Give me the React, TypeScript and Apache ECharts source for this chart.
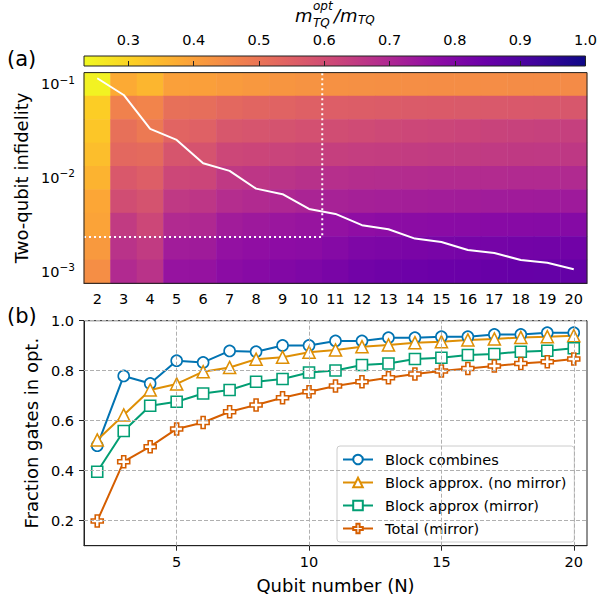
import React, { useEffect, useRef } from 'react';
import * as echarts from 'echarts';

const FONT = 'DejaVu Sans';

// ---------- panel (a) data ----------
const qubits = [2, 3, 4, 5, 6, 7, 8, 9, 10, 11, 12, 13, 14, 15, 16, 17, 18, 19, 20];
// log10 of two-qubit infidelity, rows from top to bottom
const infidelityExponents = ['-1', '-1.25', '-1.5', '-1.75', '-2', '-2.25', '-2.5', '-2.75', '-3'];
// m_TQ^opt / m_TQ for each row (top -> bottom), columns N = 2..20
const ratioRow0 = [0.245, 0.378, 0.355, 0.400, 0.402, 0.410, 0.418, 0.423, 0.428, 0.433, 0.436, 0.438, 0.440, 0.441, 0.442, 0.443, 0.444, 0.445, 0.446];
const ratioRow1 = [0.310, 0.470, 0.462, 0.510, 0.515, 0.530, 0.537, 0.543, 0.550, 0.555, 0.558, 0.561, 0.563, 0.565, 0.567, 0.569, 0.570, 0.572, 0.574];
const ratioRow2 = [0.324, 0.510, 0.490, 0.540, 0.548, 0.574, 0.580, 0.585, 0.592, 0.600, 0.606, 0.611, 0.615, 0.619, 0.623, 0.626, 0.629, 0.632, 0.635];
const ratioRow3 = [0.340, 0.530, 0.524, 0.578, 0.583, 0.616, 0.620, 0.625, 0.630, 0.636, 0.640, 0.643, 0.645, 0.647, 0.649, 0.650, 0.652, 0.653, 0.655];
const ratioRow4 = [0.360, 0.570, 0.555, 0.616, 0.620, 0.654, 0.660, 0.667, 0.675, 0.680, 0.684, 0.686, 0.688, 0.689, 0.690, 0.691, 0.692, 0.693, 0.694];
const ratioRow5 = [0.386, 0.600, 0.585, 0.654, 0.660, 0.685, 0.693, 0.700, 0.708, 0.715, 0.720, 0.722, 0.725, 0.727, 0.729, 0.731, 0.732, 0.733, 0.735];
const ratioRow6 = [0.393, 0.647, 0.616, 0.693, 0.698, 0.730, 0.738, 0.745, 0.752, 0.760, 0.770, 0.775, 0.778, 0.781, 0.783, 0.785, 0.787, 0.789, 0.790];
const ratioRow7 = [0.416, 0.670, 0.647, 0.730, 0.733, 0.760, 0.767, 0.773, 0.778, 0.790, 0.805, 0.810, 0.814, 0.818, 0.821, 0.824, 0.827, 0.830, 0.832];
const ratioRow8 = [0.440, 0.693, 0.670, 0.754, 0.756, 0.777, 0.787, 0.797, 0.805, 0.815, 0.830, 0.836, 0.840, 0.844, 0.847, 0.850, 0.853, 0.856, 0.858];
const ratioRows = [ratioRow0, ratioRow1, ratioRow2, ratioRow3, ratioRow4, ratioRow5, ratioRow6, ratioRow7, ratioRow8];

// white curve: infidelity vs N
const curveInfidelity = [0.116, 0.0769, 0.0334, 0.0255, 0.01436, 0.01189, 0.00769, 0.0067, 0.00467, 0.00413, 0.00313, 0.00283, 0.00225, 0.00207, 0.0017, 0.00158, 0.00133, 0.00124, 0.00106];
// dotted guide
const guideInfidelity = 0.00234;
const guideQubits = 10.5;

const colorbarMin = 0.232;
const colorbarMax = 1.0;
const colorbarTicks = [0.3, 0.4, 0.5, 0.6, 0.7, 0.8, 0.9, 1.0];

// ---------- panel (b) data ----------
const blockCombines = [0.50, 0.779, 0.749, 0.840, 0.833, 0.879, 0.876, 0.901, 0.901, 0.919, 0.919, 0.932, 0.932, 0.936, 0.936, 0.945, 0.945, 0.952, 0.952];
const blockApproxNoMirror = [0.523, 0.623, 0.723, 0.747, 0.796, 0.813, 0.846, 0.854, 0.874, 0.883, 0.896, 0.903, 0.912, 0.916, 0.923, 0.927, 0.933, 0.936, 0.940];
const blockApproxMirror = [0.396, 0.559, 0.660, 0.676, 0.709, 0.723, 0.756, 0.767, 0.793, 0.801, 0.823, 0.829, 0.847, 0.852, 0.863, 0.867, 0.876, 0.880, 0.890];
const totalMirror = [0.199, 0.436, 0.496, 0.567, 0.593, 0.636, 0.663, 0.692, 0.716, 0.739, 0.756, 0.772, 0.787, 0.799, 0.809, 0.819, 0.829, 0.836, 0.847];
const qubitTicks = [5, 10, 15, 20];
const fractionTicks = [0.2, 0.4, 0.6, 0.8, 1.0];

const plasma = ['#0d0887', '#41049d', '#6a00a8', '#8f0da4', '#b12a90', '#cc4778', '#e16462', '#f2844b', '#fca636', '#fcce25', '#f0f921'];
const plasmaR = [...plasma].reverse();

const PLUS = 'path://M2,0 H4 V2 H6 V4 H4 V6 H2 V4 H0 V2 H2 Z';

export default function App() {
  const ref = useRef<HTMLDivElement>(null);
  useEffect(() => {
    if (!ref.current) return;
    const chart = echarts.init(ref.current, null, { renderer: 'svg' });

    const heatData: number[][] = [];
    ratioRows.forEach((row, r) => row.forEach((v, c) => heatData.push([c, r, v])));

    const lineData = (arr: number[]) => arr.map((v, i) => [qubits[i], v]);
    const lo = Math.pow(10, -3.125);
    const hi = Math.pow(10, -0.875);

    const tickLabel = { color: '#000', fontSize: 14.5, fontFamily: FONT };
    const nameStyle = { color: '#000', fontSize: 18, fontFamily: FONT };
    const gradStops = plasmaR.map((c, i) => ({ offset: i / (plasmaR.length - 1), color: c }));

    const mkSeries = (name: string, arr: number[], color: string, symbol: string, size: number) => ({
      name,
      type: 'line',
      xAxisIndex: 2,
      yAxisIndex: 2,
      data: lineData(arr),
      symbol,
      symbolSize: size,
      showAllSymbol: true,
      lineStyle: { color, width: 2 },
      itemStyle: { color: '#fff', borderColor: color, borderWidth: 1.6 },
      emphasis: { disabled: true },
      z: 3,
    });

    chart.setOption({
      animation: false,
      textStyle: { fontFamily: FONT },
      grid: [
        { left: 84, top: 72.6, width: 503, height: 210.7, show: true, borderColor: '#222', borderWidth: 1, z: 5 },
        { left: 84, top: 72.6, width: 503, height: 210.7 },
        { left: 84, top: 320.7, width: 503, height: 225, show: true, borderColor: '#222', borderWidth: 1 },
        {
          left: 84, top: 56, width: 502, height: 10, show: true, borderColor: '#222', borderWidth: 1,
          backgroundColor: new echarts.graphic.LinearGradient(0, 0, 1, 0, gradStops),
        },
      ],
      xAxis: [
        {
          gridIndex: 0, type: 'category', data: qubits.map(String),
          axisLine: { lineStyle: { color: '#222' } },
          axisTick: { alignWithLabel: true, length: 5, interval: 0, lineStyle: { color: '#222' } },
          axisLabel: { ...tickLabel, interval: 0, margin: 8 },
          splitLine: { show: false },
        },
        { gridIndex: 1, type: 'value', min: 1.5, max: 20.5, show: false },
        {
          gridIndex: 2, type: 'value', min: 1.5, max: 20.5,
          name: 'Qubit number (N)', nameLocation: 'middle', nameGap: 31,
          nameTextStyle: nameStyle,
          axisLine: { lineStyle: { color: '#222' } },
          axisTick: { show: true, length: 5, customValues: qubitTicks, lineStyle: { color: '#222' } },
          axisLabel: { ...tickLabel, customValues: qubitTicks, margin: 9 },
          splitLine: { show: false },
        },
        {
          gridIndex: 3, type: 'value', position: 'top', min: colorbarMin, max: colorbarMax,
          axisLine: { show: false },
          axisTick: { show: true, length: 5, customValues: colorbarTicks, lineStyle: { color: '#222' } },
          axisLabel: { ...tickLabel, customValues: colorbarTicks, margin: 9, formatter: (v: number) => v.toFixed(1) },
          splitLine: { show: false },
        },
      ],
      yAxis: [
        {
          gridIndex: 0, type: 'category', data: infidelityExponents, inverse: true,
          name: 'Two-qubit infidelity', nameLocation: 'middle', nameGap: 52,
          nameTextStyle: nameStyle,
          axisLine: { lineStyle: { color: '#222' } },
          axisTick: { alignWithLabel: true, length: 5, interval: 0, lineStyle: { color: '#222' } },
          axisLabel: {
            interval: 0, margin: 9,
            formatter: (v: string) => (Number.isInteger(Number(v)) ? `{b|10}{s|\u2212${Math.abs(Number(v))}}` : ''),
            rich: {
              b: { color: '#000', fontSize: 14.5, fontFamily: FONT, lineHeight: 20 },
              s: { color: '#000', fontSize: 10.5, fontFamily: FONT, lineHeight: 10, verticalAlign: 'top' },
            },
          },
          splitLine: { show: false },
        },
        { gridIndex: 1, type: 'log', min: lo, max: hi, show: false },
        {
          gridIndex: 2, type: 'value', min: 0.1, max: 1.0,
          name: 'Fraction gates in opt.', nameLocation: 'middle', nameGap: 43,
          nameTextStyle: nameStyle,
          axisLine: { lineStyle: { color: '#222' } },
          axisTick: { show: true, length: 5, customValues: fractionTicks, lineStyle: { color: '#222' } },
          axisLabel: { ...tickLabel, customValues: fractionTicks, margin: 10, formatter: (v: number) => v.toFixed(1) },
          splitLine: { show: false },
        },
        { gridIndex: 3, type: 'value', show: false },
      ],
      visualMap: {
        show: false, type: 'continuous', min: colorbarMin, max: colorbarMax, seriesIndex: 0,
        inRange: { color: plasmaR },
      },
      legend: {
        orient: 'vertical', left: 337, top: 446,
        itemWidth: 30, itemHeight: 12, itemGap: 8,
        padding: [6, 8, 6, 5],
        backgroundColor: 'rgba(255,255,255,0.85)', borderColor: '#ccc', borderWidth: 1, borderRadius: 3,
        textStyle: { color: '#000', fontSize: 14.5, fontFamily: FONT, padding: [0, 0, 0, 7] },
        data: ['Block combines', 'Block approx. (no mirror)', 'Block approx (mirror)', 'Total (mirror)'],
      },
      graphic: [
        { type: 'text', left: 7, top: 48, style: { text: '(a)', fontSize: 21, fontFamily: FONT, fill: '#000' } },
        { type: 'text', left: 7, top: 305, style: { text: '(b)', fontSize: 21, fontFamily: FONT, fill: '#000' } },
        { type: 'text', x: 295, y: 6, style: { text: 'm', fontSize: 18, fontStyle: 'italic', fontFamily: FONT, fill: '#000' } },
        { type: 'text', x: 313, y: 0, style: { text: 'opt', fontSize: 12, fontStyle: 'italic', fontFamily: FONT, fill: '#000' } },
        { type: 'text', x: 313, y: 17, style: { text: 'TQ', fontSize: 12, fontStyle: 'italic', fontFamily: FONT, fill: '#000' } },
        { type: 'text', x: 334, y: 6, style: { text: '/m', fontSize: 18, fontStyle: 'italic', fontFamily: FONT, fill: '#000' } },
        { type: 'text', x: 358, y: 14, style: { text: 'TQ', fontSize: 12, fontStyle: 'italic', fontFamily: FONT, fill: '#000' } },
      ],
      series: [
        {
          type: 'heatmap', xAxisIndex: 0, yAxisIndex: 0, data: heatData,
          emphasis: { disabled: true }, itemStyle: { borderWidth: 0 },
        },
        {
          type: 'line', xAxisIndex: 1, yAxisIndex: 1, data: lineData(curveInfidelity),
          symbol: 'none', lineStyle: { color: '#fff', width: 2 }, z: 4, silent: true,
        },
        {
          type: 'line', xAxisIndex: 1, yAxisIndex: 1,
          data: [[1.5, guideInfidelity], [guideQubits, guideInfidelity], [guideQubits, hi]],
          symbol: 'none', lineStyle: { color: '#fff', width: 2, type: [2, 3] }, z: 4, silent: true,
        },
        {
          type: 'line', xAxisIndex: 2, yAxisIndex: 2, data: [], silent: true, z: 1,
          markLine: {
            silent: true, symbol: ['none', 'none'], label: { show: false },
            lineStyle: { color: '#b0b0b0', width: 1, type: [4, 2] },
            data: [...qubitTicks.map((v) => ({ xAxis: v })), ...fractionTicks.map((v) => ({ yAxis: v }))],
          },
        },
        mkSeries('Block combines', blockCombines, '#0173b2', 'circle', 11),
        mkSeries('Block approx. (no mirror)', blockApproxNoMirror, '#de8f05', 'triangle', 12),
        mkSeries('Block approx (mirror)', blockApproxMirror, '#029e73', 'rect', 11),
        mkSeries('Total (mirror)', totalMirror, '#d55e00', PLUS, 12),
      ],
    });
    return () => chart.dispose();
  }, []);
  return <div ref={ref} style={{ position: 'absolute', left: 0, top: 0, width: 600, height: 601 }} />;
}
